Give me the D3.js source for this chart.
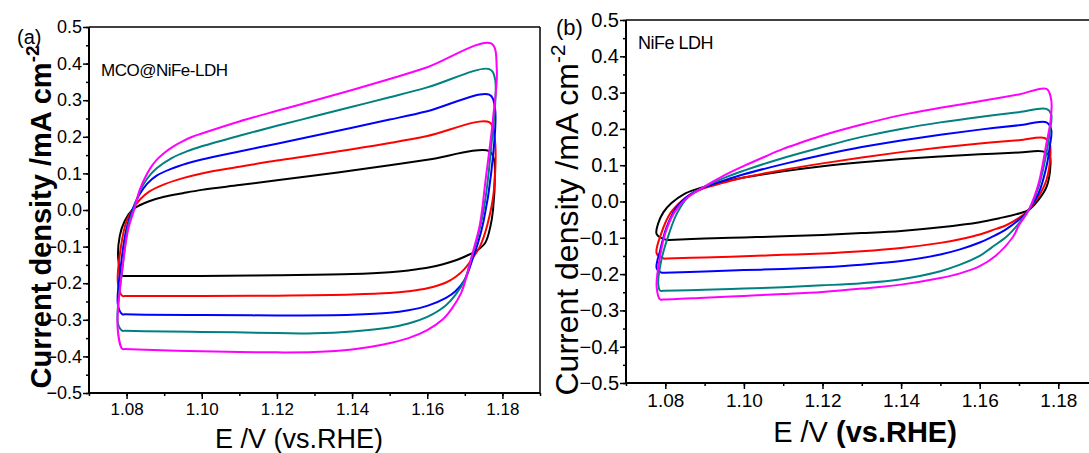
<!DOCTYPE html>
<html>
<head>
<meta charset="utf-8">
<script src="https://cdn.jsdelivr.net/npm/d3@7"></script>
<style>
  body { margin: 0; background: #fff; }
  svg { display: block; font-family: "Liberation Sans", Arial, sans-serif; }
</style>
</head>
<body>
<svg id="chart" width="1089" height="453"></svg>
<script>
// tick values
var xTicks = [1.08, 1.10, 1.12, 1.14, 1.16, 1.18];
var yTicks = [0.5, 0.4, 0.3, 0.2, 0.1, 0.0, -0.1, -0.2, -0.3, -0.4, -0.5];
var colors = ["#000000", "#ff0000", "#0000ff", "#008080", "#ff00ff"];

// (a) MCO@NiFe-LDH, closed CV loops [E, j]
var aBlack = [[1.0778,-0.135],[1.0782,-0.07],[1.0795,-0.03],[1.0815,0.0],[1.0835,0.013],[1.086,0.024],[1.09,0.036],[1.095,0.046],[1.10,0.055],[1.11,0.068],[1.12,0.081],[1.13,0.094],[1.14,0.108],[1.15,0.122],[1.16,0.137],[1.1765,0.161],
  [1.1778,0.136],[1.178,0.10],[1.1775,0.0],[1.1768,-0.045],[1.1754,-0.09],[1.173,-0.112],[1.1705,-0.125],[1.168,-0.136],[1.1642,-0.148],[1.16,-0.158],[1.155,-0.165],[1.15,-0.17],[1.14,-0.175],[1.12,-0.178],[1.10,-0.18],[1.085,-0.18],[1.0795,-0.18],[1.0789,-0.18]];
var aRed = [[1.0777,-0.20],[1.0785,-0.10],[1.080,-0.03],[1.0815,0.0],[1.0835,0.028],[1.086,0.05],[1.09,0.07],[1.095,0.087],[1.10,0.10],[1.11,0.118],[1.12,0.135],[1.13,0.15],[1.14,0.166],[1.15,0.183],[1.16,0.202],[1.1765,0.24],
  [1.1779,0.2],[1.1777,0.05],[1.176,-0.04],[1.174,-0.10],[1.1725,-0.125],[1.17,-0.16],[1.1675,-0.183],[1.165,-0.198],[1.16,-0.214],[1.155,-0.222],[1.15,-0.227],[1.14,-0.231],[1.12,-0.234],[1.10,-0.235],[1.085,-0.235],[1.0795,-0.235],[1.0789,-0.235]];
var aBlue = [[1.0777,-0.26],[1.0785,-0.15],[1.080,-0.05],[1.0815,0.0],[1.0833,0.04],[1.0855,0.072],[1.088,0.094],[1.092,0.113],[1.096,0.127],[1.10,0.138],[1.11,0.16],[1.12,0.181],[1.13,0.203],[1.14,0.225],[1.15,0.247],[1.16,0.27],[1.1765,0.315],
  [1.178,0.28],[1.177,0.10],[1.175,-0.03],[1.1735,-0.09],[1.1725,-0.12],[1.17,-0.19],[1.1675,-0.222],[1.165,-0.24],[1.16,-0.262],[1.155,-0.274],[1.15,-0.281],[1.14,-0.286],[1.12,-0.288],[1.10,-0.287],[1.085,-0.286],[1.0795,-0.285],[1.0789,-0.285]];
var aTeal = [[1.0777,-0.31],[1.079,-0.15],[1.0805,-0.04],[1.0818,0.0],[1.0835,0.05],[1.0855,0.086],[1.088,0.114],[1.092,0.142],[1.096,0.16],[1.10,0.174],[1.11,0.203],[1.12,0.23],[1.13,0.256],[1.14,0.282],[1.15,0.308],[1.16,0.335],[1.1765,0.385],
  [1.178,0.36],[1.1768,0.15],[1.175,0.0],[1.173,-0.09],[1.1715,-0.14],[1.17,-0.19],[1.1675,-0.232],[1.165,-0.26],[1.16,-0.292],[1.155,-0.31],[1.15,-0.321],[1.14,-0.332],[1.13,-0.337],[1.12,-0.336],[1.10,-0.333],[1.085,-0.331],[1.0795,-0.33],[1.0789,-0.33]];
var aPink = [[1.0776,-0.32],[1.079,-0.15],[1.0805,-0.05],[1.082,0.0],[1.0835,0.055],[1.085,0.09],[1.0865,0.117],[1.088,0.137],[1.09,0.156],[1.0925,0.174],[1.095,0.188],[1.0975,0.2],[1.10,0.209],[1.11,0.242],[1.12,0.271],[1.13,0.299],[1.14,0.328],[1.15,0.358],[1.16,0.39],[1.177,0.455],
  [1.1785,0.385],[1.1775,0.25],[1.1755,0.08],[1.174,-0.04],[1.172,-0.12],[1.1705,-0.18],[1.169,-0.227],[1.1665,-0.27],[1.164,-0.30],[1.16,-0.328],[1.155,-0.35],[1.148,-0.368],[1.14,-0.381],[1.13,-0.388],[1.12,-0.389],[1.11,-0.388],[1.10,-0.386],[1.085,-0.382],[1.0795,-0.38],[1.0789,-0.38]];

// (b) NiFe LDH
var bBlack = [[1.0778,-0.09],[1.0782,-0.06],[1.0795,-0.03],[1.0815,-0.005],[1.085,0.022],[1.09,0.041],[1.095,0.055],[1.10,0.066],[1.11,0.083],[1.12,0.097],[1.13,0.108],[1.14,0.117],[1.15,0.124],[1.16,0.13],[1.17,0.135],[1.176,0.138],
  [1.1778,0.125],[1.178,0.1],[1.177,0.04],[1.175,0.005],[1.1725,-0.023],[1.17,-0.033],[1.165,-0.046],[1.16,-0.057],[1.15,-0.071],[1.14,-0.081],[1.13,-0.087],[1.12,-0.092],[1.11,-0.096],[1.10,-0.099],[1.09,-0.102],[1.081,-0.106],[1.0804,-0.106]];
var bRed = [[1.0778,-0.143],[1.079,-0.087],[1.0813,-0.032],[1.084,0.0],[1.086,0.017],[1.089,0.033],[1.095,0.052],[1.10,0.066],[1.11,0.087],[1.12,0.105],[1.13,0.121],[1.14,0.136],[1.15,0.149],[1.16,0.16],[1.17,0.169],[1.1765,0.175],
  [1.1778,0.16],[1.178,0.13],[1.177,0.06],[1.175,0.014],[1.1725,-0.023],[1.17,-0.045],[1.167,-0.064],[1.163,-0.08],[1.16,-0.091],[1.155,-0.104],[1.15,-0.114],[1.14,-0.128],[1.13,-0.137],[1.12,-0.143],[1.11,-0.147],[1.10,-0.151],[1.09,-0.154],[1.0805,-0.157],[1.0796,-0.157]];
var bBlue = [[1.0778,-0.184],[1.0787,-0.134],[1.0804,-0.069],[1.083,-0.014],[1.0866,0.021],[1.089,0.035],[1.095,0.058],[1.10,0.075],[1.11,0.103],[1.12,0.128],[1.13,0.15],[1.14,0.168],[1.15,0.184],[1.16,0.198],[1.17,0.21],[1.177,0.218],
  [1.1782,0.198],[1.1778,0.15],[1.177,0.097],[1.175,0.023],[1.1725,-0.023],[1.17,-0.05],[1.1665,-0.078],[1.163,-0.098],[1.16,-0.113],[1.155,-0.132],[1.15,-0.146],[1.14,-0.164],[1.13,-0.174],[1.12,-0.181],[1.11,-0.186],[1.10,-0.189],[1.09,-0.193],[1.0798,-0.196],[1.079,-0.196]];
var bTeal = [[1.0782,-0.226],[1.079,-0.161],[1.081,-0.087],[1.083,-0.032],[1.0858,0.012],[1.089,0.035],[1.095,0.065],[1.10,0.085],[1.11,0.12],[1.12,0.15],[1.13,0.178],[1.14,0.20],[1.15,0.218],[1.16,0.233],[1.17,0.246],[1.177,0.255],
  [1.1782,0.24],[1.1778,0.19],[1.177,0.134],[1.175,0.041],[1.1725,-0.023],[1.17,-0.06],[1.167,-0.095],[1.163,-0.127],[1.16,-0.15],[1.155,-0.174],[1.15,-0.192],[1.14,-0.214],[1.13,-0.225],[1.12,-0.231],[1.11,-0.236],[1.10,-0.24],[1.09,-0.243],[1.0795,-0.246],[1.0787,-0.246]];
var bPink = [[1.0778,-0.235],[1.0785,-0.161],[1.08,-0.087],[1.0822,-0.032],[1.085,0.005],[1.089,0.035],[1.095,0.072],[1.10,0.098],[1.105,0.122],[1.11,0.145],[1.115,0.164],[1.12,0.182],[1.13,0.212],[1.14,0.238],[1.15,0.258],[1.16,0.276],[1.17,0.295],[1.177,0.31],
  [1.1782,0.28],[1.178,0.22],[1.177,0.161],[1.175,0.05],[1.1725,-0.023],[1.17,-0.065],[1.1685,-0.097],[1.164,-0.15],[1.16,-0.178],[1.155,-0.198],[1.15,-0.211],[1.14,-0.229],[1.13,-0.24],[1.12,-0.249],[1.11,-0.255],[1.10,-0.26],[1.09,-0.265],[1.0795,-0.27],[1.0787,-0.27]];

var svg = d3.select("#chart");

function drawPanel(p) {
    var x = d3.scaleLinear().domain([1.07, 1.19]).range([p.left, p.right]);
    var y = d3.scaleLinear().domain([-0.5, 0.5]).range([p.bottom, p.top]);
    var g = svg.append("g");

    var line = d3.line()
        .x(function(d) { return x(d[0]); })
        .y(function(d) { return y(d[1]); })
        .curve(d3.curveCatmullRomClosed.alpha(0.5));

    g.selectAll("path.cv")
        .data(p.curves)
        .enter()
        .append("path")
        .attr("class", "cv")
        .attr("d", function(d) { return line(d); })
        .attr("fill", "none")
        .attr("stroke", function(d, i) { return colors[i]; })
        .attr("stroke-width", 2)
        .attr("stroke-linejoin", "round");

    // frame
    g.append("line").attr("x1", p.left).attr("x2", p.right).attr("y1", p.top).attr("y2", p.top)
        .attr("stroke", "#000").attr("stroke-width", 1.5);
    g.append("line").attr("x1", p.right).attr("x2", p.right).attr("y1", p.top).attr("y2", p.bottom)
        .attr("stroke", "#000").attr("stroke-width", 1.5);

    var minorX = d3.range(1.07, 1.195, 0.01);
    var minorY = d3.range(-0.5, 0.52, 0.05);

    var xAxisMinor = d3.axisBottom(x).tickValues(minorX).tickSize(3).tickFormat("");
    var xAxis = d3.axisBottom(x).tickValues(xTicks).tickSize(6).tickPadding(p.xPad).tickFormat(d3.format(".2f"));
    var yAxisMinor = d3.axisLeft(y).tickValues(minorY).tickSize(3).tickFormat("");
    var yAxis = d3.axisLeft(y).tickValues(yTicks).tickSize(6).tickPadding(1).tickFormat(d3.format(".1f"));

    [xAxisMinor, xAxis].forEach(function(ax) {
        g.append("g").attr("transform", "translate(0," + p.bottom + ")").call(ax)
            .call(function(s) {
                s.select(".domain").attr("stroke-width", 2).attr("d", "M" + p.left + ",0H" + p.right);
                s.selectAll(".tick line").attr("stroke-width", 1.5);
                s.selectAll("text").attr("font-size", p.xTickSize).attr("fill", "#000").attr("font-family", "Liberation Sans, Arial, sans-serif");
            });
    });
    [yAxisMinor, yAxis].forEach(function(ax) {
        g.append("g").attr("transform", "translate(" + p.left + ",0)").call(ax)
            .call(function(s) {
                s.select(".domain").attr("stroke-width", 2).attr("d", "M0," + p.bottom + "V" + p.top);
                s.selectAll(".tick line").attr("stroke-width", 1.5);
                s.selectAll("text").attr("font-size", p.yTickSize).attr("fill", "#000").attr("font-family", "Liberation Sans, Arial, sans-serif");
            });
    });

    // y title
    var yt = g.append("text")
        .attr("transform", "translate(" + p.yTitleX + "," + p.yTitleY + ") rotate(-90)")
        .attr("text-anchor", "middle")
        .attr("font-size", p.yTitleSize)
        .attr("font-weight", p.yTitleWeight);
    yt.append("tspan").text("Current density /mA cm");
    yt.append("tspan").attr("dy", -p.yTitleSize * 0.4).attr("font-size", p.yTitleSize * 0.65).text("-2");

    // x title
    var xt = g.append("text")
        .attr("x", p.xTitleX).attr("y", p.xTitleY)
        .attr("text-anchor", "middle")
        .attr("font-size", p.xTitleSize);
    xt.append("tspan").text("E /V ");
    xt.append("tspan").attr("font-weight", p.xBold ? "bold" : "normal").text("(vs.RHE)");

    g.append("text").attr("x", p.tagX).attr("y", p.tagY).attr("font-size", p.tagSize).text(p.tag);
    g.append("text").attr("x", p.nameX).attr("y", p.nameY).attr("font-size", p.nameSize)
        .attr("letter-spacing", -0.5).text(p.name);
}

drawPanel({
    left: 89, right: 540, top: 27, bottom: 393,
    curves: [aBlack, aRed, aBlue, aTeal, aPink],
    xTickSize: 17, yTickSize: 18, xPad: 4,
    yTitleX: 51, yTitleY: 217, yTitleSize: 29, yTitleWeight: "bold",
    xTitleX: 299, xTitleY: 448, xTitleSize: 27, xBold: false,
    tag: "(a)", tagX: 17, tagY: 44, tagSize: 20,
    name: "MCO@NiFe-LDH", nameX: 101, nameY: 76, nameSize: 17
});

drawPanel({
    left: 626, right: 1097.6, top: 20, bottom: 383,
    curves: [bBlack, bRed, bBlue, bTeal, bPink],
    xTickSize: 19, yTickSize: 20, xPad: 5,
    yTitleX: 578, yTitleY: 220, yTitleSize: 32, yTitleWeight: "normal",
    xTitleX: 865, xTitleY: 442, xTitleSize: 29, xBold: true,
    tag: "(b)", tagX: 556, tagY: 35, tagSize: 22,
    name: "NiFe LDH", nameX: 638, nameY: 49, nameSize: 18
});
</script>
</body>
</html>
